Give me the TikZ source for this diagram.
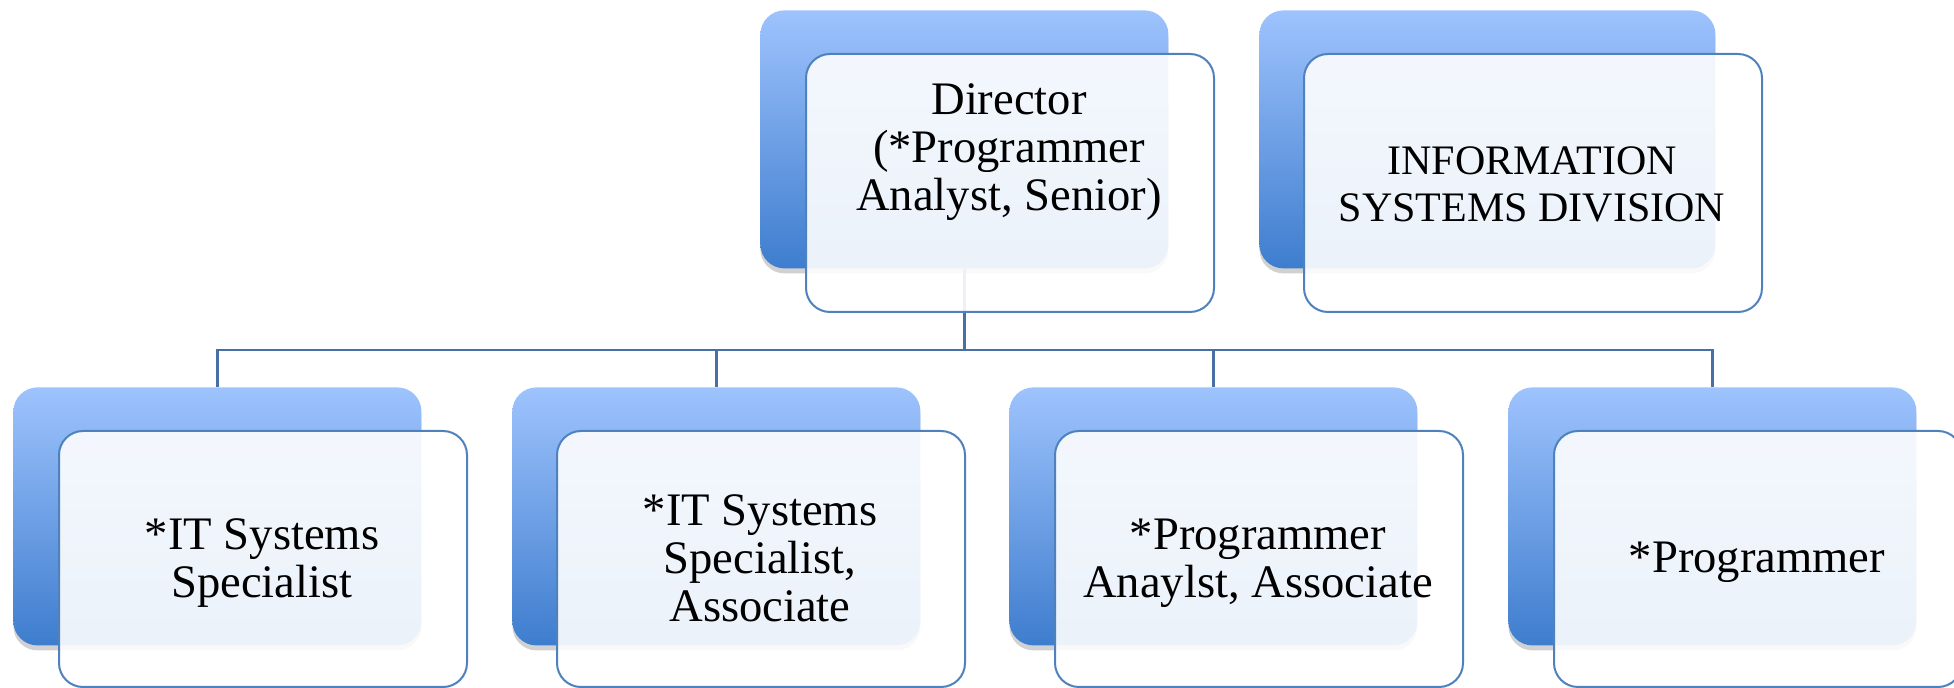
\documentclass[tikz,border=0pt]{standalone}
\usepackage{fontspec}
\setmainfont{Liberation Serif}
\usetikzlibrary{shadows}
\pgfdeclarelayer{bg}
\pgfsetlayers{bg,main}
\definecolor{bktop}{RGB}{158,195,253}
\definecolor{bkbot}{RGB}{62,125,206}
\definecolor{frline}{RGB}{79,129,189}
\definecolor{conn}{RGB}{72,112,165}
\tikzset{
  backbox/.style={rectangle, rounded corners=12pt, minimum width=204pt, minimum height=129pt,
    inner sep=0pt, anchor=north west, top color=bktop, bottom color=bkbot, draw=none,
    drop shadow={shadow xshift=0pt, shadow yshift=-2.5pt, opacity=0.3, fill=black!60}},
  frontbox/.style={rectangle, rounded corners=12pt, minimum width=204pt, minimum height=129pt,
    inner sep=0pt, anchor=north west, fill=white, fill opacity=0.9, draw=frline, line width=1pt},
  boxtext/.style={anchor=base, inner sep=0pt, font=\fontsize{23.3}{24}\selectfont},
  connector/.style={draw=conn, line width=1.1pt},
}
\begin{document}
\begin{tikzpicture}[x=0.5pt, y=-0.5pt]
\useasboundingbox (0,0) rectangle (1954,688);
% back boxes
\node[backbox] (dirB) at (760,10) {};
\node[backbox, minimum width=228pt] (infB) at (1259,10) {};
\node[backbox] (c1B) at (13,387) {};
\node[backbox] (c2B) at (512,387) {};
\node[backbox] (c3B) at (1009,387) {};
\node[backbox] (c4B) at (1508,387) {};
% front boxes
\node[frontbox] (dirF) at (805,53) {};
\node[frontbox, minimum width=229pt] (infF) at (1303,53) {};
\node[frontbox, minimum height=128pt] (c1F) at (58,430) {};
\node[frontbox, minimum height=128pt] (c2F) at (556,430) {};
\node[frontbox, minimum height=128pt] (c3F) at (1054,430) {};
\node[frontbox, minimum height=128pt] (c4F) at (1553,430) {};
% texts
\node[boxtext] (dirT) at (1009,115) {\begin{tabular}[t]{@{}c@{}}Director\\ (*Programmer\\Analyst, Senior)\end{tabular}};
\node[boxtext, font=\fontsize{21}{23.5}\selectfont] (infT) at (1532,175) {\begin{tabular}[t]{@{}c@{}}INFORMATION\\SYSTEMS DIVISION\end{tabular}};
\node[boxtext] (c1T) at (262,550) {\begin{tabular}[t]{@{}c@{}}*IT Systems\\Specialist\end{tabular}};
\node[boxtext] (c2T) at (760,526) {\begin{tabular}[t]{@{}c@{}}*IT Systems\\Specialist,\\Associate\end{tabular}};
\node[boxtext] (c3T) at (1258,550) {\begin{tabular}[t]{@{}c@{}}*Programmer\\Anaylst, Associate\end{tabular}};
\node[boxtext] (c4T) at (1757,573) {*Programmer};
% connectors
\coordinate (bar) at (0,350);
\begin{pgfonlayer}{bg}
\draw[connector] (dirB.south) -- (dirB.south |- bar) -| (c1B.north);
\draw[connector] (dirB.south |- bar) -| (c2B.north);
\draw[connector] (dirB.south |- bar) -| (c3B.north);
\draw[connector] (dirB.south |- bar) -| (c4B.north);
\end{pgfonlayer}
\end{tikzpicture}
\end{document}
